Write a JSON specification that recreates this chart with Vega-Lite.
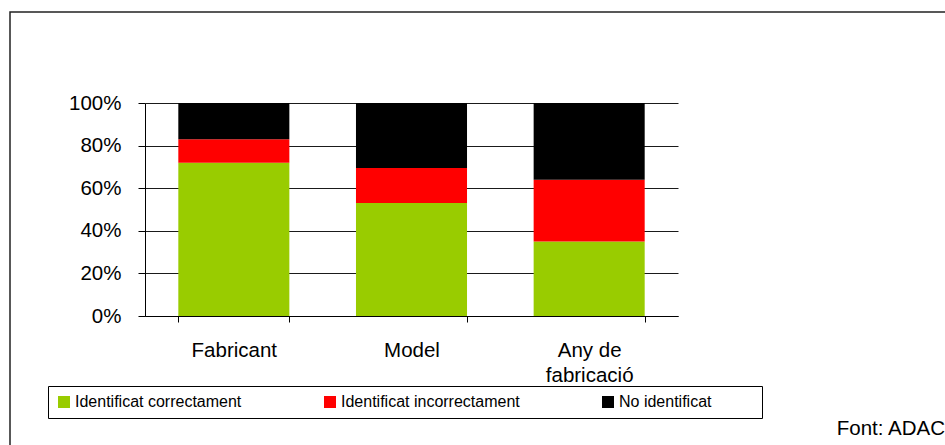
{
  "$schema": "https://vega.github.io/schema/vega-lite/v6.json",
  "width": 940,
  "height": 440,
  "autosize": {"type": "none"},
  "padding": {"left": 10, "top": 12, "right": 0, "bottom": 0},
  "background": "white",
  "title": {
    "text": "Font: ADAC",
    "orient": "top",
    "anchor": "end",
    "frame": "group",
    "align": "right",
    "baseline": "alphabetic",
    "offset": 0,
    "dy": 443,
    "dx": -5,
    "fontSize": 20.5,
    "fontWeight": "normal",
    "font": "Liberation Sans",
    "color": "#000000"
  },
  "data": {
    "values": [
      {"categoria": "Fabricant", "resultat": "Identificat correctament", "percentatge": 72},
      {"categoria": "Fabricant", "resultat": "Identificat incorrectament", "percentatge": 11},
      {"categoria": "Fabricant", "resultat": "No identificat", "percentatge": 17},
      {"categoria": "Model", "resultat": "Identificat correctament", "percentatge": 53},
      {"categoria": "Model", "resultat": "Identificat incorrectament", "percentatge": 16.5},
      {"categoria": "Model", "resultat": "No identificat", "percentatge": 30.5},
      {"categoria": "Any de fabricació", "resultat": "Identificat correctament", "percentatge": 35},
      {"categoria": "Any de fabricació", "resultat": "Identificat incorrectament", "percentatge": 29},
      {"categoria": "Any de fabricació", "resultat": "No identificat", "percentatge": 36}
    ]
  },
  "mark": {"type": "bar"},
  "encoding": {
    "x": {
      "field": "categoria",
      "type": "nominal",
      "sort": ["Fabricant", "Model", "Any de fabricació"],
      "scale": {"range": [135, 668], "paddingInner": 0.375, "paddingOuter": 0.1875},
      "axis": {
        "title": null,
        "orient": "bottom",
        "offset": -136,
        "labelAngle": 0,
        "labelFontSize": 20.5,
        "labelFont": "Liberation Sans",
        "labelColor": "#000000",
        "labelPadding": 18,
        "labelLineHeight": 25,
        "labelExpr": "datum.label == 'Any de fabricació' ? ['Any de', 'fabricació'] : datum.label",
        "tickBand": "extent",
        "tickSize": 6,
        "tickColor": "#000000",
        "domainColor": "#000000",
        "grid": false
      }
    },
    "y": {
      "field": "percentatge",
      "type": "quantitative",
      "stack": "normalize",
      "scale": {"domain": [0, 1], "range": [304, 91], "nice": false},
      "axis": {
        "title": null,
        "orient": "left",
        "offset": -135,
        "format": ".0%",
        "values": [0, 0.2, 0.4, 0.6, 0.8, 1],
        "labelFontSize": 20.5,
        "labelFont": "Liberation Sans",
        "labelColor": "#000000",
        "labelPadding": 17,
        "tickSize": 7,
        "tickColor": "#000000",
        "domainColor": "#000000",
        "grid": true,
        "gridColor": "#1a1a1a",
        "gridWidth": 1
      }
    },
    "order": {"field": "resultat", "sort": "ascending"},
    "color": {
      "field": "resultat",
      "type": "nominal",
      "scale": {
        "domain": ["Identificat correctament", "Identificat incorrectament", "No identificat"],
        "range": ["#99CC00", "#FF0000", "#000000"]
      },
      "legend": {
        "orient": "none",
        "legendX": 38,
        "legendY": 374,
        "direction": "horizontal",
        "columns": 3,
        "columnPadding": 80,
        "padding": 8,
        "strokeColor": "#000000",
        "fillColor": "#ffffff",
        "symbolType": "square",
        "symbolSize": 144,
        "symbolStrokeWidth": 0,
        "labelFontSize": 16,
        "labelFont": "Liberation Sans",
        "labelColor": "#000000",
        "labelOffset": 3,
        "labelLimit": 400,
        "title": " ",
        "titleOrient": "right",
        "titlePadding": 43,
        "titleFontSize": 16
      }
    }
  },
  "config": {
    "view": {"stroke": "#222222", "strokeWidth": 1.5, "fill": "white"}
  }
}
